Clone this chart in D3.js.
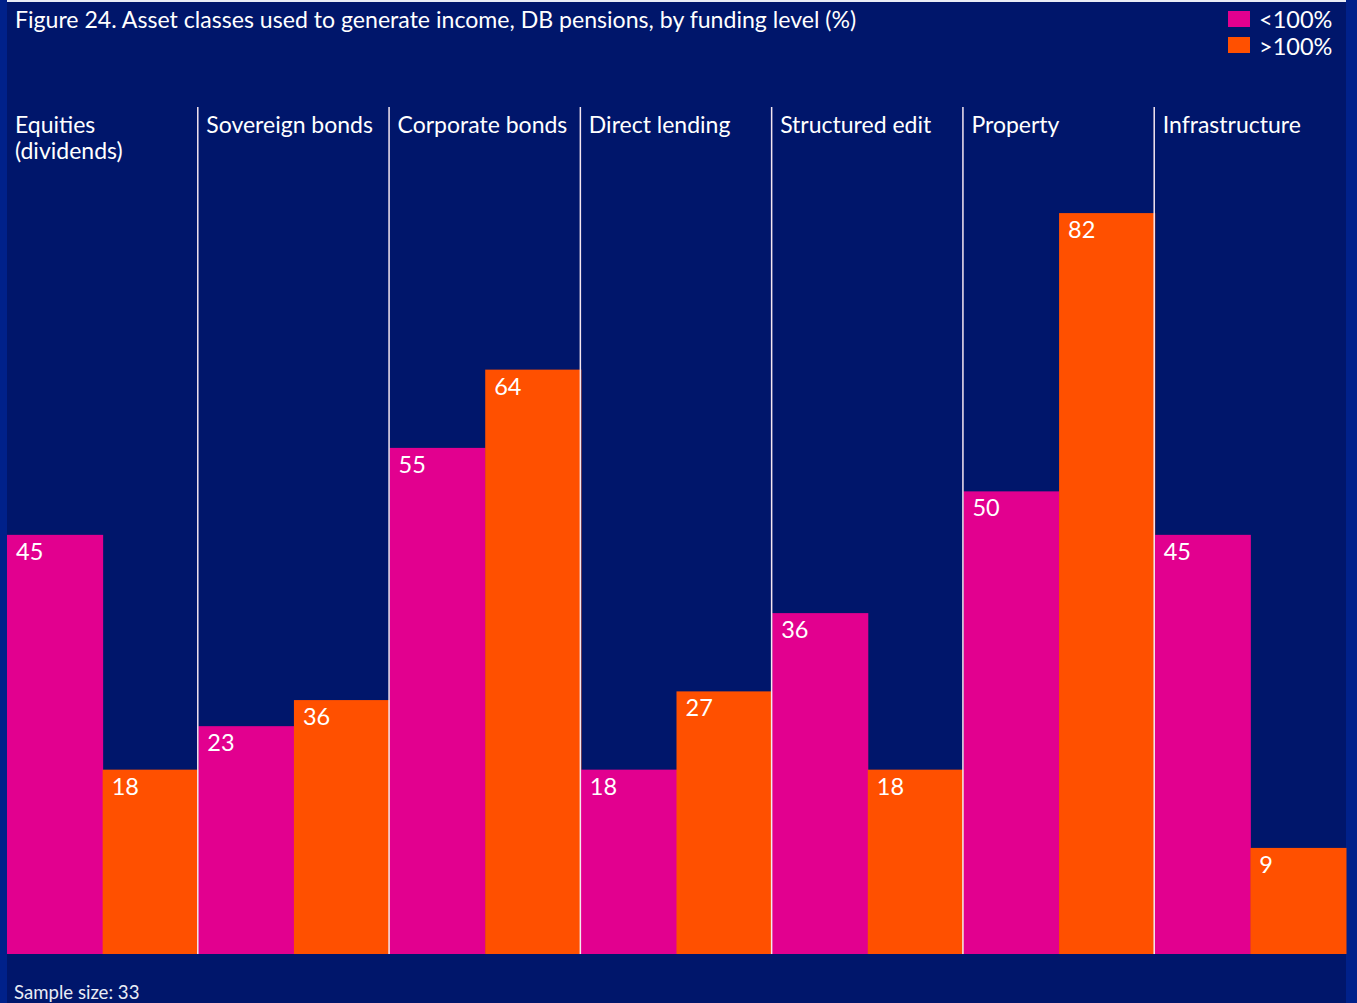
<!DOCTYPE html>
<html><head><meta charset="utf-8">
<script src="https://cdn.jsdelivr.net/npm/d3@7"></script>
<style>
html,body{margin:0;padding:0;background:#001a78;}
svg{display:block;}
text{font-family:"Lato","Open Sans",sans-serif;font-weight:400;}
</style></head>
<body>
<svg id="c" width="1357" height="1003"></svg>
<script>
const categories = ["Equities\n(dividends)", "Sovereign bonds", "Corporate bonds", "Direct lending", "Structured edit", "Property", "Infrastructure"];
const seriesNames = ["<100%", ">100%"];
// bar heights as drawn in the picture
const under100 = [45, 23, 55, 18, 36, 50, 45];
const over100 = [18, 26, 64, 27, 18, 82, 9];
// value labels as printed in the picture
const under100Labels = ["45", "23", "55", "18", "36", "50", "45"];
const over100Labels = ["18", "36", "64", "27", "18", "82", "9"];
const colors = ["#e2008f", "#ff5000"];
const title = "Figure 24. Asset classes used to generate income, DB pensions, by funding level (%)";
const note = "Sample size: 33";

const W = 1357, H = 1003;
const svg = d3.select("#c");
svg.append("rect").attr("x",0).attr("y",0).attr("width",W).attr("height",H).attr("fill","#00218a");
svg.append("rect").attr("x",7).attr("y",0).attr("width",1339).attr("height",H).attr("fill","#00166b");
svg.append("line").attr("x1",7).attr("x2",1346).attr("y1",1).attr("y2",1).attr("stroke","#e8ecf5").attr("stroke-width",2);

const x0 = d3.scaleBand().domain(d3.range(categories.length)).range([7, 1346]).paddingInner(0).paddingOuter(0);
const x1 = d3.scaleBand().domain([0,1]).range([0, x0.bandwidth()]);
const y = d3.scaleLinear().domain([-3.2, 94.2]).range([954, 107]);

const data = categories.map((c,i)=>({cat:c, i, vals:[under100[i], over100[i]], labs:[under100Labels[i], over100Labels[i]]}));

const g = svg.append("g");
const grp = g.selectAll("g.grp").data(data).join("g").attr("transform", d=>`translate(${x0(d.i)},0)`);

grp.selectAll("rect").data(d=>d.vals.map((v,k)=>({v,k,l:d.labs[k]}))).join("rect")
  .attr("x", d=>x1(d.k)).attr("width", x1.bandwidth()+0.5)
  .attr("y", d=>y(d.v)).attr("height", d=>y(y.domain()[0]) - y(d.v))
  .attr("fill", d=>colors[d.k]);

grp.selectAll("text.val").data(d=>d.vals.map((v,k)=>({v,k,l:d.labs[k]}))).join("text")
  .attr("class","val")
  .attr("x", d=>x1(d.k)+9).attr("y", d=>y(d.v)+25)
  .attr("fill","#ffffff").attr("font-size",23.5).text(d=>d.l);

// dividers
svg.selectAll("line.div").data(d3.range(1, categories.length)).join("line")
  .attr("class","div")
  .attr("x1", i=>x0(i)-0.5).attr("x2", i=>x0(i)-0.5)
  .attr("y1", y.range()[1]).attr("y2", y.range()[0])
  .attr("stroke","#f4e6f0").attr("stroke-width",1.5);

// category labels
grp.each(function(d){
  const t = d3.select(this).append("text").attr("fill","#ffffff").attr("font-size",23);
  d.cat.split("\n").forEach((line,j)=>{
    t.append("tspan").attr("x", 8).attr("y", 133 + j*26).text(line);
  });
});

// title
svg.append("text").attr("x",15).attr("y",28).attr("fill","#ffffff").attr("font-size",23.1).text(title);

// legend
const leg = svg.append("g");
seriesNames.forEach((s,k)=>{
  leg.append("rect").attr("x",1228).attr("y",11+k*26).attr("width",22).attr("height",16).attr("fill",colors[k]);
  leg.append("text").attr("x",1259).attr("y",28+k*27).attr("fill","#ffffff").attr("font-size",23.5).text(s);
});

svg.append("text").attr("x",14).attr("y",999).attr("fill","#e8ecf5").attr("font-size",18.6).text(note);
</script>
</body></html>
